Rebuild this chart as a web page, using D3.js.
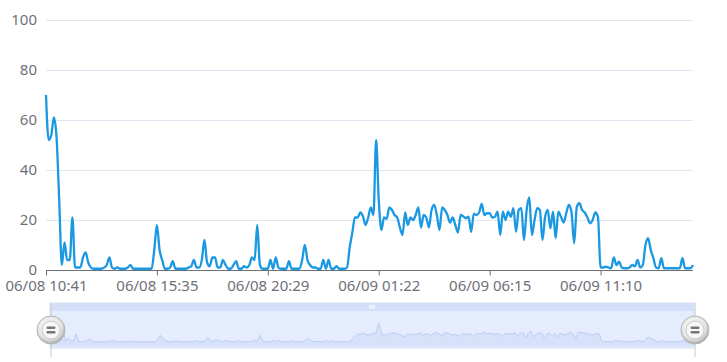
<!DOCTYPE html>
<html lang="en">
<head>
  <meta charset="UTF-8">
  <title>line</title>
  <script src="https://d3js.org/d3.v7.min.js" charset="utf-8"></script>
  <style>
    body { margin: 0; background: #fff; }
    text { font-family: "Noto Sans", sans-serif; }
  </style>
</head>
<body>
</body>
<script>
  // one sample roughly every 7 minutes, 06/08 10:41 -> 06/09 ~15:10
  var values = [
    70, 52, 54, 61, 53, 28, 2, 11, 4, 4,
    21, 1, 1, 1, 5, 7, 3, 1, 0.5, 0.5,
    0.5, 0.5, 1, 2, 5, 1, 0.5, 1, 0.5, 0.5,
    0.5, 1, 2, 0.5, 0.5, 0.5, 0.5, 0.5, 0.5, 0.5,
    0.5, 8, 18, 8, 4, 0.5, 0.5, 1, 3.5, 0.5,
    0.5, 0.5, 0.5, 0.5, 1, 1.5, 4, 1, 1, 4,
    12, 3, 1.5, 5, 5, 1, 1, 4, 2, 0.5,
    0.5, 2, 3.5, 0.5, 0.5, 1.5, 1, 2, 5, 4,
    18, 2, 0.5, 0.5, 0.5, 4, 0.5, 5, 1, 0.5,
    0.5, 0.5, 3.5, 0.5, 0.5, 0.5, 0.5, 4, 10, 4,
    2, 1, 1, 0.5, 0.5, 4, 0.5, 4, 0.5, 0.5,
    1.5, 0.5, 0.5, 0.5, 1, 9, 15, 21, 21, 23,
    21.5, 18, 21, 25, 22, 52, 28, 16, 21, 20.5,
    25, 24, 22, 21, 17, 14, 23, 18, 21, 20,
    22, 25, 17, 22, 21, 17, 24, 26, 22, 16,
    25, 24, 22, 19, 21, 18, 15, 22, 21.5, 20.7,
    21.3, 15.3, 22.5, 22, 23, 26.4, 22, 22.7, 22.7, 21,
    21.3, 23.3, 14, 23.3, 20, 23.3, 21.3, 24.7, 15.3, 24,
    24.7, 12, 24, 29, 14, 20, 24.7, 24, 12, 21.3,
    24, 16.7, 23.3, 12.7, 23.3, 21.3, 19, 22.7, 26, 23,
    10.7, 25.3, 26.7, 24, 23, 21, 18.7, 20, 23, 21.3,
    1, 1, 1.3, 1, 0.7, 5, 2, 3.3, 1, 0.7,
    0.7, 1, 2, 1.5, 4, 1, 2, 10, 12.7, 8,
    4.7, 1, 0.7, 4.7, 0.7, 0.7, 0.7, 0.7, 0.7, 0.7,
    0.7, 4.7, 0.7, 0.7, 0.7, 2
  ]
  var tickLabels = ['06/08 10:41', '06/08 15:35', '06/08 20:29', '06/09 01:22', '06/09 06:15', '06/09 11:10']
  var labelEvery = 42
  var yTicks = [0, 20, 40, 60, 80, 100]

  var categories = values.map(function(v, i) { return i })
  var data = values.map(function(v, i) { return [i, v] })

  var W = 727, H = 362
  var gLeft = 46, gRight = 693, gTop = 20, gBottom = 270

  var svg = d3.select('body').append('svg').attr('width', W).attr('height', H)

  var x = d3.scalePoint().domain(categories).range([gLeft, gRight]).padding(0)
  var y = d3.scaleLinear().domain([0, 100]).range([gBottom, gTop])

  // grid
  svg.append('g').selectAll('line').data(yTicks.slice(1)).enter().append('line')
    .attr('x1', gLeft).attr('x2', gRight)
    .attr('y1', function(d) { return y(d) + 0.5 }).attr('y2', function(d) { return y(d) + 0.5 })
    .attr('stroke', '#e0e6f1')

  var yAxis = svg.append('g').attr('transform', 'translate(' + (gLeft - 9) + ',0)')
    .call(d3.axisLeft(y).tickValues(yTicks).tickSize(0).tickPadding(0))
  yAxis.select('.domain').remove()
  yAxis.selectAll('text').attr('fill', '#6e7079').style('font-size', '15px')

  var xAxis = svg.append('g').attr('transform', 'translate(0,' + (gBottom + 0.5) + ')')
    .call(d3.axisBottom(x)
      .tickValues(categories.filter(function(c) { return c % labelEvery === 0 }))
      .tickFormat(function(c) { return tickLabels[c / labelEvery] })
      .tickSize(5).tickPadding(5).tickSizeOuter(0))
  xAxis.select('.domain').attr('stroke', '#6e7079').attr('d', 'M' + gLeft + ',0H' + gRight)
  xAxis.selectAll('line').attr('stroke', '#6e7079')
  xAxis.selectAll('text').attr('fill', '#6e7079').style('font-size', '15px')

  var line = d3.line()
    .x(function(d) { return x(d[0]) })
    .y(function(d) { return y(d[1]) })
    .curve(d3.curveMonotoneX)

  svg.append('path')
    .attr('d', line(data))
    .attr('fill', 'none')
    .attr('stroke', '#1a98e2')
    .attr('stroke-width', 2.3)
    .attr('stroke-linejoin', 'round')

  // data zoom slider
  var sl = 50, sr = 694, st = 303, sb = 348
  var sx = d3.scalePoint().domain(categories).range([sl, sr]).padding(0)
  var sy = d3.scaleLinear().domain([0, 70]).range([342, 316])

  svg.append('rect').attr('x', sl).attr('y', st).attr('width', sr - sl).attr('height', sb - st)
    .attr('fill', '#e4ecfd').attr('stroke', '#d6e0f5')

  var area = d3.area()
    .x(function(d) { return sx(d[0]) })
    .y0(sy(0) + 4)
    .y1(function(d) { return sy(d[1]) })
  svg.append('path').attr('d', area(data)).attr('fill', '#d3dff8').attr('opacity', 0.8)
  var sline = d3.line()
    .x(function(d) { return sx(d[0]) })
    .y(function(d) { return sy(d[1]) })
  svg.append('path').attr('d', sline(data)).attr('fill', 'none')
    .attr('stroke', '#b3c6f0').attr('stroke-width', 0.8)

  svg.append('rect').attr('x', sl).attr('y', st).attr('width', sr - sl).attr('height', 8)
    .attr('fill', '#d4e0f9')
  var mid = (sl + sr) / 2
  svg.append('g').selectAll('line').data([-2, 0, 2]).enter().append('line')
    .attr('x1', function(d) { return mid + d }).attr('x2', function(d) { return mid + d })
    .attr('y1', st + 2).attr('y2', st + 6)
    .attr('stroke', '#ffffff').attr('stroke-width', 1)

  var defs = svg.append('defs')
  var grad = defs.append('radialGradient').attr('id', 'hg').attr('cx', '45%').attr('cy', '40%').attr('r', '60%')
  grad.append('stop').attr('offset', '0%').attr('stop-color', '#ffffff')
  grad.append('stop').attr('offset', '70%').attr('stop-color', '#e6e6e6')
  grad.append('stop').attr('offset', '100%').attr('stop-color', '#a9a9a9')

  var handles = svg.append('g').selectAll('g').data([sl + 1, sr + 1]).enter().append('g')
    .attr('transform', function(d) { return 'translate(' + d + ',330)' })
  handles.append('line').attr('x1', 0).attr('x2', 0).attr('y1', -27).attr('y2', 27)
    .attr('stroke', '#c9c9c9').attr('stroke-width', 1)
  handles.append('circle').attr('r', 14).attr('fill', 'url(#hg)').attr('stroke', '#b5b5b5')
  handles.append('circle').attr('r', 9).attr('fill', '#f7f7f7').attr('stroke', '#c6c6c6')
  handles.selectAll('rect').data([-3.5, 1]).enter().append('rect')
    .attr('x', -4.5).attr('y', function(d) { return d }).attr('width', 9).attr('height', 2.5)
    .attr('rx', 1.2).attr('fill', '#777')
</script>
</html>
